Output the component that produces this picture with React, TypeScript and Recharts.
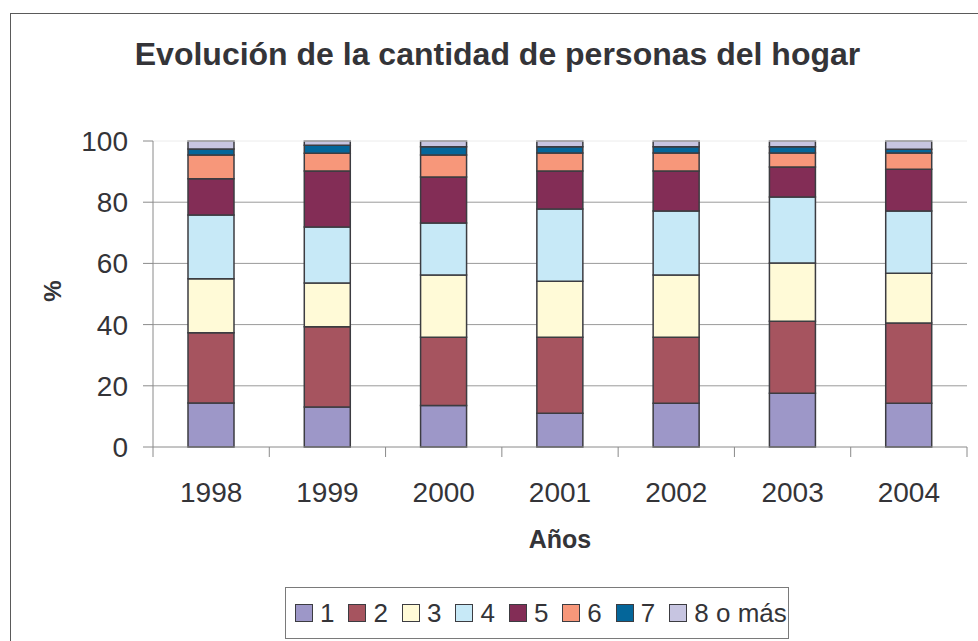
import React from 'react';
import { BarChart, Bar, XAxis, YAxis, CartesianGrid, ReferenceLine, Legend } from 'recharts';

const years = ['1998', '1999', '2000', '2001', '2002', '2003', '2004'];
const p1 = [14.4, 13.1, 13.6, 11.0, 14.3, 17.6, 14.3];
const p2 = [22.9, 26.2, 22.3, 24.9, 21.6, 23.5, 26.2];
const p3 = [17.7, 14.3, 20.3, 18.3, 20.3, 19.0, 16.3];
const p4 = [20.8, 18.3, 17.0, 23.6, 20.9, 21.6, 20.3];
const p5 = [11.9, 18.3, 15.0, 12.4, 13.1, 9.8, 13.7];
const p6 = [7.7, 5.8, 7.2, 5.9, 5.9, 4.6, 5.3];
const p7 = [2.0, 2.6, 2.7, 2.0, 2.0, 2.0, 1.2];
const p8 = [2.6, 1.4, 1.9, 1.9, 1.9, 1.9, 2.7];
const yTicks = [0, 20, 40, 60, 80, 100];

const seriesNames = ['1', '2', '3', '4', '5', '6', '7', '8 o más'];
const seriesColors = ['#9d97c8', '#a6545f', '#fffad7', '#c7e9f7', '#832d56', '#f7977a', '#04669a', '#c7c5e1'];
const seriesValues = [p1, p2, p3, p4, p5, p6, p7, p8];

const data = years.map((year, i) => {
  const row: Record<string, string | number> = { year };
  seriesNames.forEach((name, s) => {
    row[name] = seriesValues[s][i];
  });
  return row;
});

const FONT = '"Liberation Sans", Arial, sans-serif';
const TEXT = '#343438';

const XTick = (props: any) => {
  const { x, y, payload, index } = props;
  const half = payload && payload.offset ? payload.offset : 58.15;
  const last = index === years.length - 1;
  return (
    <g>
      <line x1={x - half} x2={x - half} y1={y} y2={y + 10} stroke="#8a8a8a" />
      {last && <line x1={x + half} x2={x + half} y1={y} y2={y + 10} stroke="#8a8a8a" />}
      <text x={x} y={y + 55} textAnchor="middle" fontSize={28} fill={TEXT} fontFamily={FONT}>
        {payload.value}
      </text>
    </g>
  );
};

const XLabel = (props: any) => {
  const { viewBox } = props;
  return (
    <text x={viewBox.x + viewBox.width / 2} y={548} textAnchor="middle" fontSize={25} fontWeight="bold" fill={TEXT} fontFamily={FONT}>
      Años
    </text>
  );
};

const YLabel = () => (
  <text x={52} y={291} transform="rotate(-90 52 291)" textAnchor="middle" dominantBaseline="central" fontSize={24} fontWeight="bold" fill={TEXT} fontFamily={FONT}>
    %
  </text>
);

const LegendBox = (props: any) => {
  const { payload } = props;
  return (
    <div
      style={{
        boxSizing: 'border-box',
        width: 504,
        height: 52,
        border: '1px solid #7a7a7a',
        display: 'flex',
        alignItems: 'center',
        paddingLeft: 9,
        fontFamily: FONT,
        fontSize: 26,
        color: TEXT,
        background: '#fff',
        whiteSpace: 'nowrap',
      }}
    >
      {(payload || []).map((item: any) => (
        <div key={item.value} style={{ display: 'flex', alignItems: 'center', marginRight: 14, flexShrink: 0 }}>
          <span
            style={{
              display: 'inline-block',
              boxSizing: 'border-box',
              width: 18,
              height: 18,
              background: item.color,
              border: '1.5px solid #3c3c41',
              marginRight: 7,
              flexShrink: 0,
            }}
          />
          <span style={{ fontSize: 26, lineHeight: 1, whiteSpace: 'nowrap', fontFamily: FONT }}>{item.value}</span>
        </div>
      ))}
    </div>
  );
};

export default function App() {
  return (
    <div style={{ position: 'absolute', left: 0, top: 0, width: 978, height: 641, overflow: 'hidden', background: '#fff' }}>
      <div
        style={{
          position: 'absolute',
          left: 10,
          top: 13,
          width: 1000,
          height: 700,
          border: '1px solid #5a5a5a',
        }}
      />
      <div
        style={{
          position: 'absolute',
          left: 10,
          top: 38,
          width: 975,
          textAlign: 'center',
          fontFamily: FONT,
          fontWeight: 'bold',
          fontSize: 32,
          lineHeight: 1,
          color: TEXT,
        }}
      >
        Evolución de la cantidad de personas del hogar
      </div>
      <div style={{ position: 'absolute', left: 0, top: 0 }}>
        <BarChart width={978} height={641} data={data} margin={{ top: 141, right: 11, left: 53, bottom: 42 }}>
          <CartesianGrid vertical={false} stroke="#9a9a9a" horizontalValues={[20, 40, 60, 80]} />
          <ReferenceLine y={100} stroke="#ececec" />
          <XAxis
            dataKey="year"
            height={100}
            axisLine={{ stroke: '#8a8a8a' }}
            tickLine={false}
            tickSize={0}
            tickMargin={0}
            tick={<XTick />}
            interval={0}
            label={<XLabel />}
          />
          <YAxis
            width={100}
            domain={[0, 100]}
            ticks={yTicks}
            interval={0}
            axisLine={{ stroke: '#8a8a8a' }}
            tickLine={{ stroke: '#8a8a8a' }}
            tickSize={10}
            tickMargin={15}
            tick={{ fontSize: 28, fill: TEXT, fontFamily: FONT }}
            label={<YLabel />}
          />
          <Legend
            content={<LegendBox />}
            height={52}
            verticalAlign="bottom"
            wrapperStyle={{ left: 285, top: 587, width: 504, height: 52, bottom: 'auto' }}
          />
          {seriesNames.map((name, s) => (
            <Bar
              key={name}
              dataKey={name}
              stackId="a"
              fill={seriesColors[s]}
              stroke="#3c3c41"
              strokeWidth={1.5}
              barSize={46}
              isAnimationActive={false}
            />
          ))}
        </BarChart>
      </div>
    </div>
  );
}
